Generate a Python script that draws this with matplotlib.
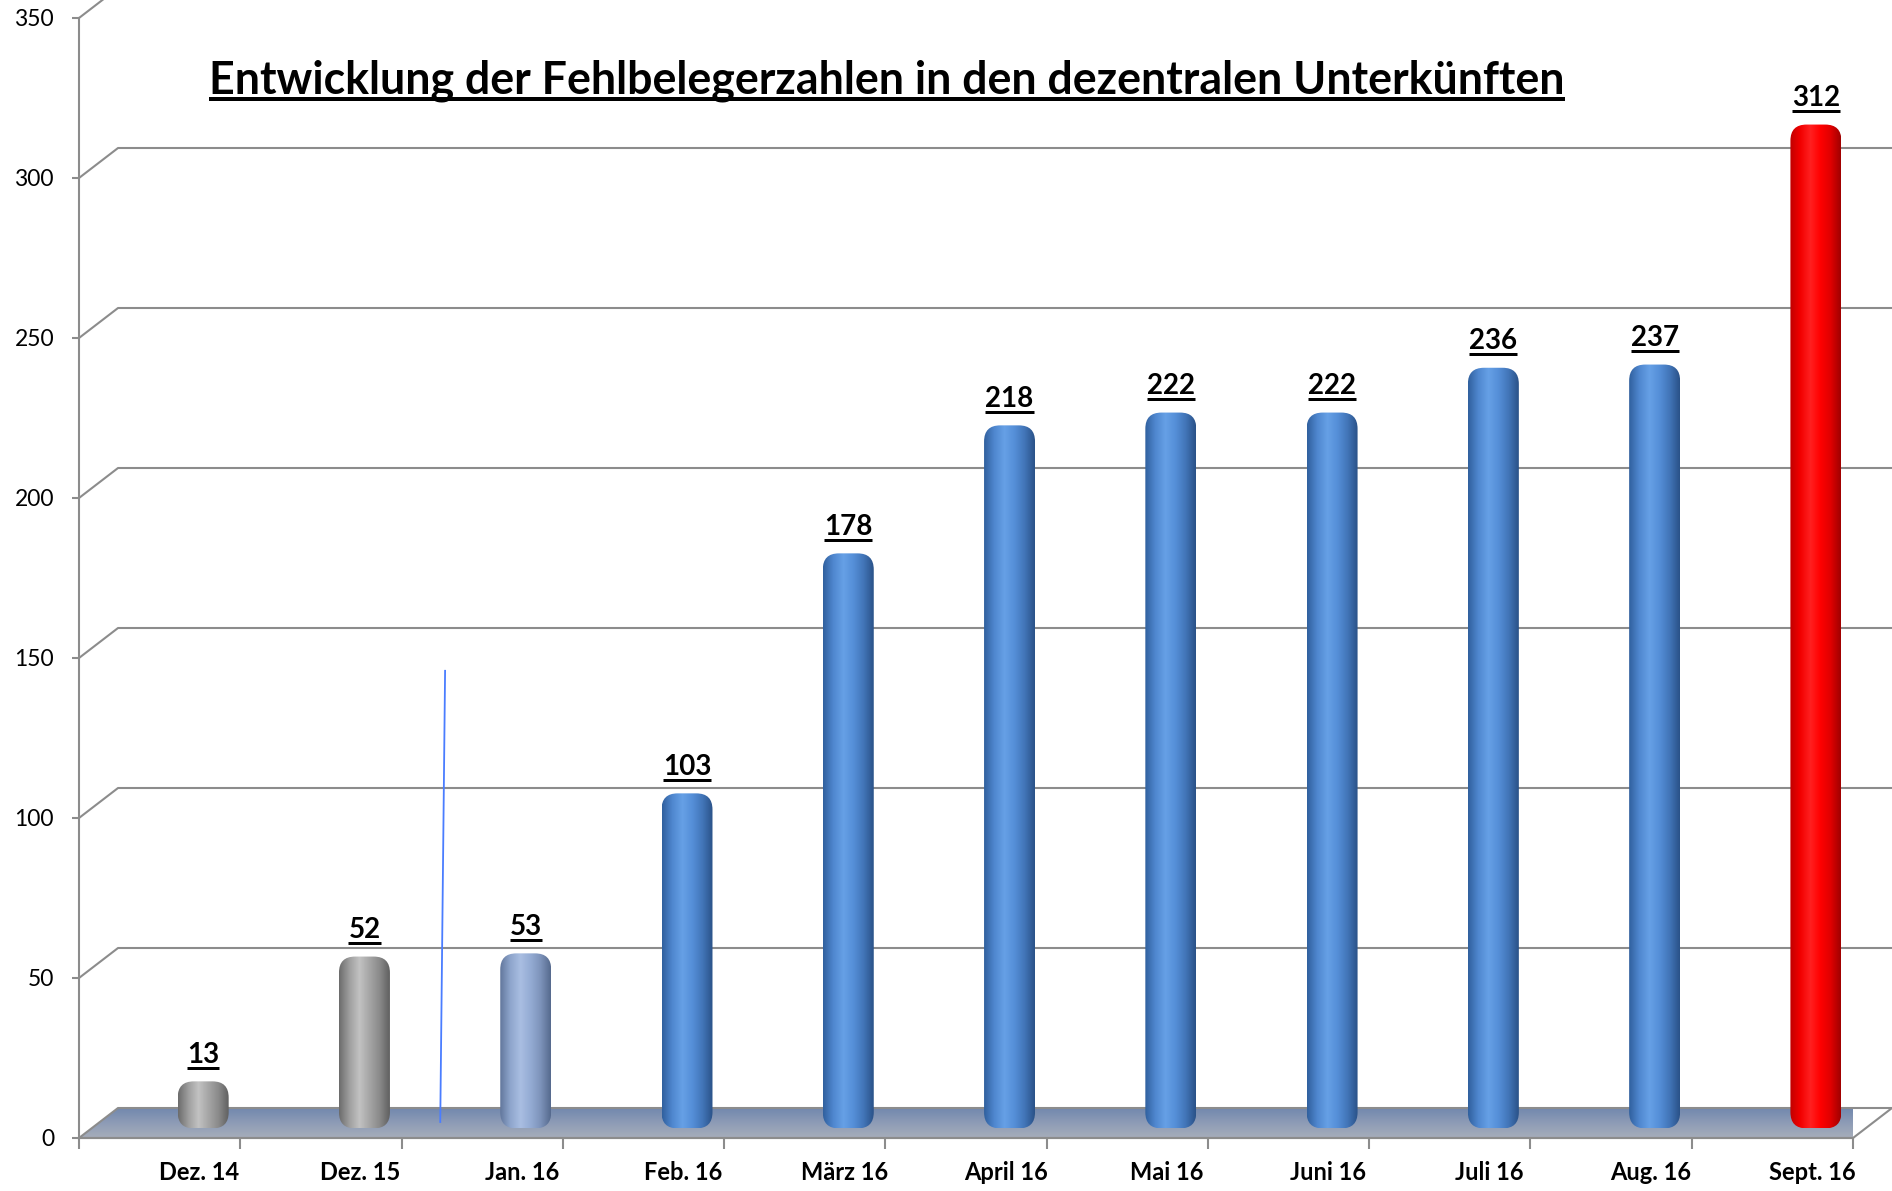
import matplotlib
matplotlib.use('Agg')
import matplotlib.pyplot as plt
import numpy as np
from matplotlib.patches import FancyBboxPatch, Polygon
from matplotlib.colors import LinearSegmentedColormap
from matplotlib.lines import Line2D

# Daten
monate = ['Dez. 14', 'Dez. 15', 'Jan. 16', 'Feb. 16', 'März 16', 'April 16',
          'Mai 16', 'Juni 16', 'Juli 16', 'Aug. 16', 'Sept. 16']
werte = [13, 52, 53, 103, 178, 218, 222, 222, 236, 237, 312]
farben = ['grau', 'grau', 'hellblau', 'blau', 'blau', 'blau', 'blau',
          'blau', 'blau', 'blau', 'rot']
y_ticks = [0, 50, 100, 150, 200, 250, 300, 350]
titel = 'Entwicklung der Fehlbelegerzahlen in den dezentralen Unterkünften'
# die kleine blaue Linie zwischen Dez. 15 und Jan. 16
linie_x = [1.74, 1.77]
linie_y = [5, 146]

# Zylinder-Schattierung (links -> rechts)
schatten = {
    'grau': ['#6c6c6c', '#9e9e9e', '#c2c2c2', '#a6a6a6', '#8a8a8a', '#606060'],
    'hellblau': ['#62779c', '#8ea5cc', '#a9bee2', '#95acd4', '#7d93ba', '#566a8e'],
    'blau': ['#30609e', '#4f87cf', '#66a0e6', '#558fd8', '#4275b8', '#2a5288'],
    'rot': ['#c00000', '#f20000', '#ff2020', '#ff0000', '#e00000', '#a00000'],
}

W, H = 1892, 1191
tiefe_x = 0.242   # perspektivischer Versatz der Rückwand
tiefe_y = 9.375
bar_versatz = 0.27
bar_breite = 0.316


def unterstreichen(fig, txt, renderer, abstand, dicke):
    bb = txt.get_window_extent(renderer)
    base = txt.get_transform().transform(txt.get_position())[1]
    y = (base - abstand) / H
    fig.add_artist(Line2D([bb.x0 / W, bb.x1 / W], [y, y], transform=fig.transFigure,
                          color='black', lw=dicke * 0.72, solid_capstyle='butt'))


def verlauf(ax, daten, cmap, extent, patch, z):
    im = ax.imshow(daten, cmap=cmap, aspect='auto', origin='lower', extent=extent, zorder=z)
    im.set_clip_on(True)
    im.set_clip_box(None)
    im.set_clip_path(patch)
    return im


def wykres():
    plt.rcParams['font.family'] = ['Lato', 'DejaVu Sans']
    fig = plt.figure(figsize=(W / 100, H / 100), dpi=100)
    ax = fig.add_axes([79 / W, 53 / H, 1774 / W, 1120 / H])
    n = len(monate)

    # Boden
    boden = Polygon([(-0.5, 0), (n - 0.5, 0), (n - 0.5 + tiefe_x, tiefe_y), (-0.5 + tiefe_x, tiefe_y)],
                    closed=True, facecolor='none', edgecolor='#8c8c8c', lw=1.5, zorder=2, clip_on=False)
    ax.add_patch(boden)
    cm_boden = LinearSegmentedColormap.from_list('boden', ['#a6adba', '#8e9cb6', '#7288ae'])
    verlauf(ax, np.linspace(0, 1, 64).reshape(-1, 1), cm_boden,
            (-0.5, n - 0.5 + tiefe_x, 0, tiefe_y), boden, 1)

    # Gitterlinien an der Rückwand
    for v in y_ticks[1:]:
        ax.plot([-0.5, -0.5 + tiefe_x, n - 0.5 + tiefe_x], [v, v + tiefe_y, v + tiefe_y],
                color='#8c8c8c', lw=1.5, zorder=0.5, clip_on=False)

    # Zylinder
    for i, (w, f) in enumerate(zip(werte, farben)):
        x0 = i + bar_versatz - bar_breite / 2
        y0 = 3
        y1 = w + 4.7
        box = FancyBboxPatch((x0, y0), bar_breite, y1 - y0,
                             boxstyle='round,pad=0,rounding_size=0.1', mutation_aspect=50.4,
                             facecolor='none', edgecolor='none', zorder=3, clip_on=False)
        ax.add_patch(box)
        cm = LinearSegmentedColormap.from_list(f, schatten[f])
        verlauf(ax, np.linspace(0, 1, 128).reshape(1, -1), cm, (x0, x0 + bar_breite, y0, y1), box, 3)

    ax.plot(linie_x, linie_y, color='#4a7dff', lw=1.3, zorder=4)

    ax.set_xlim(-0.5, n - 0.5)
    ax.set_ylim(0, 350)
    ax.patch.set_visible(False)
    for s in ['top', 'right']:
        ax.spines[s].set_visible(False)
    for s in ['left', 'bottom']:
        ax.spines[s].set_color('#8c8c8c')
        ax.spines[s].set_linewidth(1.5)
        ax.spines[s].set_zorder(2.5)

    ax.set_yticks(y_ticks)
    ax.tick_params(axis='y', length=5, width=1.5, color='#8c8c8c', pad=13, labelsize=16.5)
    ax.set_xticks(np.arange(-0.5, n, 1))
    ax.set_xticklabels([])
    ax.tick_params(axis='x', length=8, width=1.5, color='#8c8c8c')

    for i, m in enumerate(monate):
        ax.text(i + 0.245, -10.9, m, ha='center', va='center', fontsize=17,
                fontweight='bold', clip_on=False)

    etiketten = []
    for i, w in enumerate(werte):
        t = ax.text(i + bar_versatz, w + 10.5, str(w), ha='center', va='baseline',
                    fontsize=20, fontweight='bold', zorder=5)
        etiketten.append(t)

    t_titel = fig.text(887 / W, 1 - 93 / H, titel, ha='center', va='baseline',
                       fontsize=28, fontweight='bold')
    fig.canvas.draw()
    r = fig.canvas.get_renderer()
    breite = t_titel.get_window_extent(r).width
    t_titel.set_fontsize(28 * 1354 / breite)
    fig.canvas.draw()

    unterstreichen(fig, t_titel, r, 6, 4)
    for t in etiketten:
        unterstreichen(fig, t, r, 5, 3)

    fig.savefig('out.png', dpi=100, facecolor='white')


if __name__ == '__main__':
    wykres()
